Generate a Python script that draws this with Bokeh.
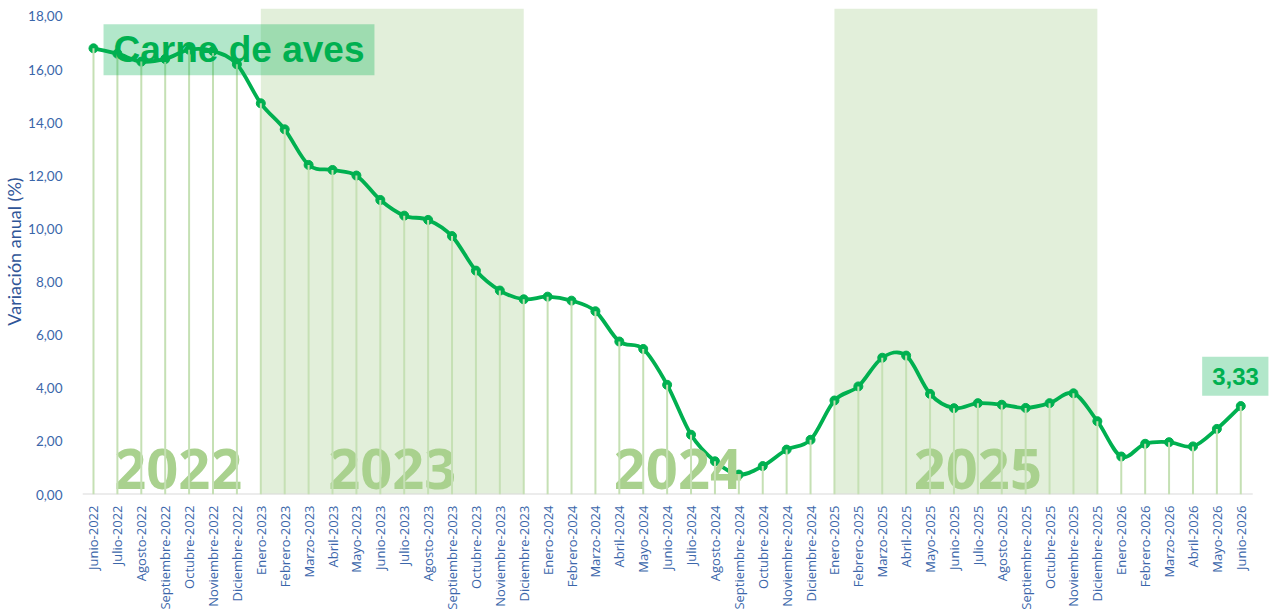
import math
from bokeh.plotting import figure
from bokeh.models import FixedTicker, BoxAnnotation, Label
from bokeh.core.properties import value
from bokeh.embed import file_html
from bokeh.resources import INLINE

# ---------------- data ----------------
month_names = ["Enero", "Febrero", "Marzo", "Abril", "Mayo", "Junio", "Julio",
               "Agosto", "Septiembre", "Octubre", "Noviembre", "Diciembre"]
labels = ([f"{m}-2022" for m in month_names[5:]] +
          [f"{m}-{y}" for y in (2023, 2024, 2025) for m in month_names] +
          [f"{m}-2026" for m in month_names[:6]])

values = [16.80, 16.60, 16.30, 16.40, 16.75, 16.70, 16.20,
          14.73, 13.75, 12.41, 12.22, 12.01, 11.09, 10.50, 10.34, 9.73, 8.43, 7.68, 7.35,
          7.45, 7.30, 6.90, 5.76, 5.48, 4.13, 2.25, 1.25, 0.75, 1.07, 1.69, 2.06,
          3.54, 4.07, 5.15, 5.23, 3.79, 3.25, 3.44, 3.38, 3.26, 3.44, 3.81, 2.76,
          1.43, 1.91, 1.97, 1.81, 2.47, 3.33]

shaded_years = [2023, 2025]
year_labels = ["2022", "2023", "2024", "2025"]
y_ticks = [0, 2, 4, 6, 8, 10, 12, 14, 16, 18]
title_text = "Carne de aves"
y_title = "Variación anual (%)"

# ---------------- styling ----------------
GREEN = "#00b050"
DROP = "#c5e0b4"
SHADE = "#e2efda"
YEARC = "#a9d18e"
TICKC = "#3b66aa"

xs = list(range(len(values)))
n = len(values)
X0 = -0.46
X_END = 49.16

p = figure(width=1269, height=612, output_backend="svg", toolbar_location=None,
           x_range=(X0, X_END), y_range=(0, 18.3),
           min_border_left=82, min_border_right=1, min_border_top=8, min_border_bottom=0)
p.outline_line_color = None
p.grid.grid_line_color = None
p.background_fill_color = "white"

# shaded years
for yr in shaded_years:
    idx = [i for i, l in enumerate(labels) if l.endswith(str(yr))]
    p.add_layout(BoxAnnotation(left=min(idx), right=max(idx), fill_color=SHADE,
                               fill_alpha=1.0, line_color=None, level="underlay"))

# baseline (category axis extent)
p.segment(x0=[X0], y0=[0], x1=[xs[-1] + 0.5], y1=[0], line_color="#d9d9d9", line_width=2)

# smooth line (Catmull-Rom as cubic Bezier segments)
x0s, y0s, x1s, y1s, cx0, cy0, cx1, cy1 = [], [], [], [], [], [], [], []
for i in range(n - 1):
    im1 = max(i - 1, 0)
    ip2 = min(i + 2, n - 1)
    x0s.append(xs[i]); y0s.append(values[i])
    x1s.append(xs[i + 1]); y1s.append(values[i + 1])
    cx0.append(xs[i] + (xs[i + 1] - xs[im1]) / 6)
    cy0.append(values[i] + (values[i + 1] - values[im1]) / 6)
    cx1.append(xs[i + 1] - (xs[ip2] - xs[i]) / 6)
    cy1.append(values[i + 1] - (values[ip2] - values[i]) / 6)
p.bezier(x0=x0s, y0=y0s, x1=x1s, y1=y1s, cx0=cx0, cy0=cy0, cx1=cx1, cy1=cy1,
         line_color=GREEN, line_width=3.8, line_cap="round")
p.scatter(xs, values, size=9, fill_color=GREEN, line_color=GREEN)

# year labels
year_x = [3.55, 12.5, 24.45, 37.0]
p.text(x=year_x, y=[0.95] * len(year_x), text=year_labels,
       text_font=value("Open Sans"), text_font_style="bold", text_font_size="56px",
       text_align="center", text_baseline="middle", text_color=YEARC)

# drop lines
p.segment(x0=xs, y0=[0] * n, x1=xs, y1=values, line_color=DROP, line_width=2)

# title
p.add_layout(Label(x=0.42, y=16.75, text=title_text, text_font="Liberation Sans",
                   text_font_style="bold", text_font_size="37px", text_color=GREEN,
                   text_align="left", text_baseline="middle",
                   background_fill_color=GREEN, background_fill_alpha=0.3,
                   padding=dict(left=10, right=10, top=5, bottom=5)))

# last value label
last_txt = f"{values[-1]:.2f}".replace(".", ",")
p.add_layout(Label(x=47.78, y=4.45, text=last_txt, text_font="Liberation Sans",
                   text_font_style="bold", text_font_size="24px", text_color=GREEN,
                   text_align="center", text_baseline="middle",
                   background_fill_color=GREEN, background_fill_alpha=0.3,
                   padding=dict(left=10, right=10, top=11, bottom=11)))

# x axis
p.xaxis.ticker = FixedTicker(ticks=xs)
p.xaxis.major_label_overrides = {i: l for i, l in enumerate(labels)}
p.xaxis.major_label_orientation = math.pi / 2
p.xaxis.major_label_text_font = "Open Sans"
p.xaxis.major_label_text_font_size = "13px"
p.xaxis.major_label_text_color = TICKC
p.xaxis.major_label_standoff = 5
p.xaxis.axis_line_color = None
p.xaxis.major_tick_line_color = None
p.xaxis.minor_tick_line_color = None

# y axis
p.yaxis.ticker = FixedTicker(ticks=y_ticks)
p.yaxis.major_label_overrides = {t: f"{t:.2f}".replace(".", ",") for t in y_ticks}
p.yaxis.major_label_text_font = "Lato"
p.yaxis.major_label_text_font_size = "13.5px"
p.yaxis.major_label_text_color = TICKC
p.yaxis.major_label_standoff = 14
p.yaxis.axis_line_color = None
p.yaxis.major_tick_line_color = None
p.yaxis.minor_tick_line_color = None
p.yaxis.axis_label = y_title
p.yaxis.axis_label_text_font = "Lato"
p.yaxis.axis_label_text_font_style = "normal"
p.yaxis.axis_label_text_font_size = "18px"
p.yaxis.axis_label_text_color = "#2f5597"
p.yaxis.axis_label_standoff = 0

open("out.html", "w").write(file_html(p, INLINE))
